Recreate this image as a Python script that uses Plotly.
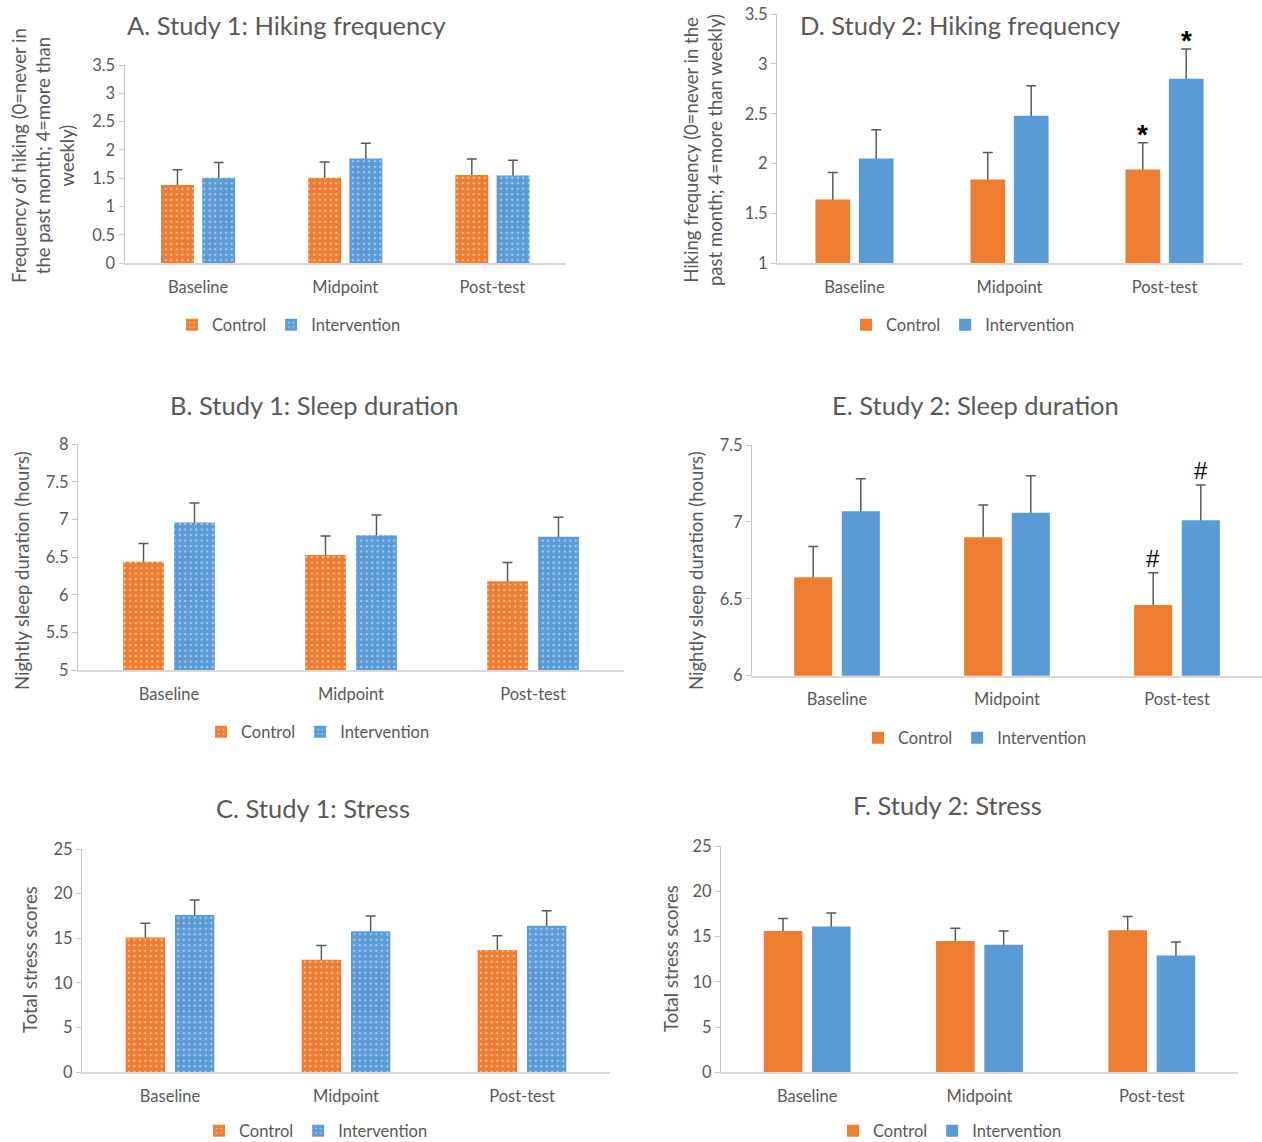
import plotly.graph_objects as go

W, H = 1262, 1142
categories = ["Baseline", "Midpoint", "Post-test"]
series_names = ["Control", "Intervention"]

# Study 1
s1_hike_control = [1.38, 1.51, 1.56]
s1_hike_control_se = [0.27, 0.28, 0.28]
s1_hike_interv = [1.51, 1.85, 1.55]
s1_hike_interv_se = [0.27, 0.27, 0.27]

s1_sleep_control = [6.44, 6.53, 6.18]
s1_sleep_control_se = [0.24, 0.25, 0.25]
s1_sleep_interv = [6.96, 6.79, 6.77]
s1_sleep_interv_se = [0.26, 0.27, 0.26]

s1_stress_control = [15.1, 12.6, 13.7]
s1_stress_control_se = [1.6, 1.6, 1.6]
s1_stress_interv = [17.6, 15.8, 16.4]
s1_stress_interv_se = [1.7, 1.7, 1.7]

# Study 2
s2_hike_control = [1.64, 1.84, 1.94]
s2_hike_control_se = [0.27, 0.27, 0.27]
s2_hike_interv = [2.05, 2.48, 2.85]
s2_hike_interv_se = [0.29, 0.30, 0.30]

s2_sleep_control = [6.64, 6.90, 6.46]
s2_sleep_control_se = [0.20, 0.21, 0.21]
s2_sleep_interv = [7.07, 7.06, 7.01]
s2_sleep_interv_se = [0.21, 0.24, 0.23]

s2_stress_control = [15.6, 14.5, 15.7]
s2_stress_control_se = [1.4, 1.4, 1.5]
s2_stress_interv = [16.1, 14.1, 12.9]
s2_stress_interv_se = [1.5, 1.5, 1.5]

ORANGE = "#ED7D31"
BLUE = "#5B9BD5"
TXT = "#595959"
FONT = "Lato"
BARGAP = 0.44

def dx(px):
    return px / W

def dy(px):
    return 1 - px / H

panels = [
    dict(title="A. Study 1: Hiking frequency",
         ytitle="Frequency of hiking (0=never in<br>the past month; 4=more than<br>weekly)",
         c=s1_hike_control, ce=s1_hike_control_se, i=s1_hike_interv, ie=s1_hike_interv_se,
         yr=[0, 3.5], dt=0.5, x0=124.5, x1=566, ytop=65, ybot=263.3,
         tx=286, ty=25, ytx=43, yty=156, lx=289, ly=325, pattern=True, marks=None),
    dict(title="B. Study 1: Sleep duration",
         ytitle="Nightly sleep duration (hours)",
         c=s1_sleep_control, ce=s1_sleep_control_se, i=s1_sleep_interv, ie=s1_sleep_interv_se,
         yr=[5, 8], dt=0.5, x0=78, x1=624, ytop=444.3, ybot=670,
         tx=314, ty=405, ytx=22, yty=571, lx=318, ly=732, pattern=True, marks=None),
    dict(title="C. Study 1: Stress",
         ytitle="Total stress scores",
         c=s1_stress_control, ce=s1_stress_control_se, i=s1_stress_interv, ie=s1_stress_interv_se,
         yr=[0, 25], dt=5, x0=82, x1=610, ytop=849, ybot=1072.3,
         tx=313, ty=808, ytx=30, yty=960, lx=316, ly=1131, pattern=True, marks=None),
    dict(title="D. Study 2: Hiking frequency",
         ytitle="Hiking frequency (0=never in the<br>past month; 4=more than weekly)",
         c=s2_hike_control, ce=s2_hike_control_se, i=s2_hike_interv, ie=s2_hike_interv_se,
         yr=[1, 3.5], dt=0.5, x0=777, x1=1242, ytop=14, ybot=263.3,
         tx=960, ty=25, ytx=703, yty=150, lx=963, ly=325, pattern=False, marks="*"),
    dict(title="E. Study 2: Sleep duration",
         ytitle="Nightly sleep duration (hours)",
         c=s2_sleep_control, ce=s2_sleep_control_se, i=s2_sleep_interv, ie=s2_sleep_interv_se,
         yr=[6, 7.5], dt=0.5, x0=752, x1=1262, ytop=445, ybot=675.7,
         tx=975, ty=405, ytx=696, yty=571, lx=975, ly=738, pattern=False, marks="#"),
    dict(title="F. Study 2: Stress",
         ytitle="Total stress scores",
         c=s2_stress_control, ce=s2_stress_control_se, i=s2_stress_interv, ie=s2_stress_interv_se,
         yr=[0, 25], dt=5, x0=721, x1=1238, ytop=846, ybot=1072.3,
         tx=947, ty=805, ytx=671, yty=959, lx=950, ly=1131, pattern=False, marks=None),
]

fig = go.Figure()
annotations = []
layout = {}

for k, p in enumerate(panels):
    n = k + 1
    xa = "x" if n == 1 else f"x{n}"
    ya = "y" if n == 1 else f"y{n}"
    lg = "legend" if n == 1 else f"legend{n}"
    for j, (name, vals, errs, col) in enumerate([(series_names[0], p["c"], p["ce"], ORANGE),
                                                 (series_names[1], p["i"], p["ie"], BLUE)]):
        og = f"p{n}s{j}"
        # error bars on a transparent bar drawn first; the real bar hides the lower half
        fig.add_trace(go.Bar(
            x=categories, y=vals, name=name, showlegend=False, hoverinfo="skip",
            marker=dict(color="rgba(0,0,0,0)", line=dict(width=0)),
            xaxis=xa, yaxis=ya, legend=lg, offsetgroup=og,
            error_y=dict(type="data", array=errs, symmetric=True,
                         color=TXT, thickness=1.5, width=5),
        ))
        marker = dict(color=col, line=dict(width=0))
        if p["pattern"]:
            marker["pattern"] = dict(shape=".", fgcolor="white", bgcolor=col,
                                     size=5.5, solidity=0.14)
        fig.add_trace(go.Bar(
            x=categories, y=vals, name=name, marker=marker,
            xaxis=xa, yaxis=ya, legend=lg, offsetgroup=og,
        ))
    xkey = "xaxis" if n == 1 else f"xaxis{n}"
    ykey = "yaxis" if n == 1 else f"yaxis{n}"
    layout[xkey] = dict(
        domain=[dx(p["x0"]), min(1.0, dx(p["x1"]))], anchor=ya, type="category",
        range=[-0.5, len(categories) - 0.5], showline=True, linecolor="#D9D9D9",
        linewidth=1.5, ticks="", showgrid=False, zeroline=False, automargin=False,
        ticklabeloverflow="allow",
        tickfont=dict(family=FONT, size=16.5, color=TXT), ticklabelstandoff=8,
    )
    layout[ykey] = dict(
        domain=[dy(p["ybot"]), dy(p["ytop"])], anchor=xa, range=p["yr"],
        dtick=p["dt"], tick0=p["yr"][0], showline=True, linecolor="#C8C8C8",
        linewidth=1, ticks="outside", ticklen=5, tickcolor="#C8C8C8",
        showgrid=False, zeroline=False, automargin=False,
        ticklabeloverflow="allow",
        tickfont=dict(family=FONT, size=16.5, color=TXT),
    )
    layout[lg] = dict(
        x=dx(p["lx"]), y=dy(p["ly"]), xanchor="center", yanchor="middle",
        orientation="h", font=dict(family=FONT, size=16.5, color=TXT),
        bgcolor="rgba(0,0,0,0)", itemclick=False, itemwidth=30,
    )
    annotations.append(dict(
        text=p["title"], x=dx(p["tx"]), y=dy(p["ty"]), xref="paper", yref="paper",
        xanchor="center", yanchor="middle", showarrow=False,
        font=dict(family=FONT, size=25.5, color=TXT),
    ))
    annotations.append(dict(
        text=p["ytitle"], x=dx(p["ytx"]), y=dy(p["yty"]), xref="paper", yref="paper",
        xanchor="center", yanchor="middle", showarrow=False, textangle=-90,
        font=dict(family=FONT, size=18.5, color=TXT),
    ))
    if p["marks"]:
        off = (1 - BARGAP) / 4
        last = len(categories) - 1
        for vals, errs, sign in [(p["c"], p["ce"], -1), (p["i"], p["ie"], 1)]:
            annotations.append(dict(
                text=f"<b>{p['marks']}</b>" if p["marks"] == "*" else p["marks"],
                x=last + sign * off, y=vals[last] + errs[last],
                xref=xa, yref=ya, xanchor="center", yanchor="bottom",
                showarrow=False, yshift=-9 if p["marks"] == "*" else -1,
                font=dict(family="Liberation Sans", size=28 if p["marks"] == "*" else 24,
                          color="black"),
            ))

fig.update_layout(
    width=W, height=H, margin=dict(l=0, r=0, t=0, b=0, autoexpand=False),
    paper_bgcolor="white", plot_bgcolor="white",
    barmode="group", bargap=BARGAP, bargroupgap=0.2,
    annotations=annotations, **layout,
)

fig.write_html(
    "out.html",
    config={"displayModeBar": False},
    post_script="document.body.style.margin='0';document.body.style.overflow='hidden';",
)
